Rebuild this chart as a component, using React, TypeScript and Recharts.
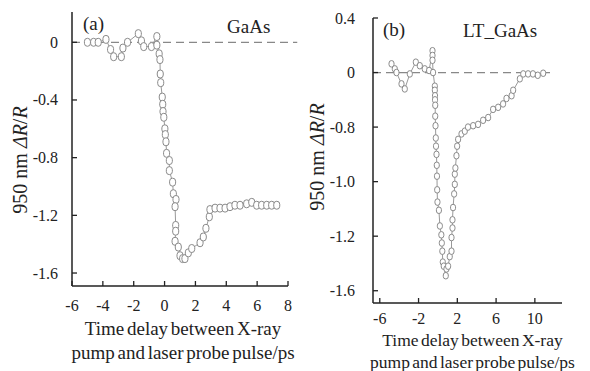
import React from 'react';
import { LineChart, Line, XAxis, YAxis, ReferenceLine, Label } from 'recharts';

// (a) GaAs: time delay (ps) and 950 nm dR/R
const timeA = [
  -5.0, -4.6, -4.3, -3.8, -3.5, -3.3, -2.8, -2.7, -2.4, -1.7, -1.5, -1.35, -0.85, -0.5, -0.5, -0.35,
  -0.3, -0.28, -0.25, -0.15, -0.12, -0.1, -0.05, 0.02, 0.05, 0.09, 0.13, 0.31, 0.31, 0.52, 0.57, 0.74,
  0.68, 0.72, 0.72, 0.68, 0.89, 1.0, 1.17, 1.32, 1.54, 1.76, 2.3, 2.51, 2.68, 2.9, 2.94, 3.27, 3.59,
  3.92, 4.24, 4.56, 4.89, 5.32, 5.65, 5.97, 6.29, 6.62, 6.94, 7.27,
];
const signalA = [
  0, 0, 0, 0.02, -0.05, -0.1, -0.1, -0.04, 0, 0.06, 0.01, -0.03, -0.03, 0.04, -0.02, -0.08,
  -0.12, -0.22, -0.28, -0.38, -0.43, -0.48, -0.52, -0.6, -0.64, -0.69, -0.77, -0.82, -0.89, -0.97, -1.05, -1.09,
  -1.14, -1.27, -1.31, -1.38, -1.42, -1.48, -1.5, -1.5, -1.46, -1.43, -1.39, -1.35, -1.29, -1.21, -1.16, -1.15, -1.15,
  -1.15, -1.14, -1.13, -1.13, -1.12, -1.11, -1.13, -1.13, -1.13, -1.13, -1.13,
];

// (b) LT_GaAs
const timeB = [
  -4.79, -4.45, -4.28, -3.76, -3.42, -2.9, -2.28, -1.87, -1.36, -0.91, -0.56, -0.56, -0.56, -0.5, -0.32, -0.32,
  -0.3, -0.3, -0.28, -0.28, -0.25, -0.22, -0.2, -0.15, -0.12, -0.1, -0.08, -0.05, 0.1, 0.2, 0.35, 0.4, 0.45,
  0.5, 0.6, 0.81, 0.88, 1.05, 1.22, 1.4, 1.4, 1.5, 1.5, 1.56, 1.67, 1.74, 1.74, 1.8, 1.91, 1.98, 2.08, 2.43,
  2.77, 3.1, 3.63, 4.14, 4.66, 5.18, 5.69, 6.21, 6.72, 7.07, 7.6, 7.76, 8.45, 8.8, 9.3, 9.8, 10.3, 10.86,
];
const signalB = [
  0.064, 0.027, 0, -0.083, -0.12, -0.01, 0.076, 0.05, 0.027, 0.015, 0.16, 0.125, 0.09, 0, -0.1, -0.13,
  -0.17, -0.2, -0.24, -0.32, -0.39, -0.48, -0.54, -0.6, -0.68, -0.76, -0.86, -0.95, -1.01, -1.125, -1.19, -1.25, -1.31,
  -1.39, -1.42, -1.49, -1.44, -1.42, -1.35, -1.31, -1.21, -1.14, -1.08, -0.99, -0.89, -0.82, -0.745, -0.7, -0.61, -0.54, -0.49, -0.45,
  -0.43, -0.4, -0.39, -0.38, -0.35, -0.33, -0.27, -0.255, -0.23, -0.19, -0.17, -0.13, -0.046, -0.01, -0.01, -0.01, -0.02, -0.005,
];

const xTicksA = [-6, -4, -2, 0, 2, 4, 6, 8];
const yTicksA = [0, -0.4, -0.8, -1.2, -1.6];
const yTickLabelsA = ['0', '-0.4', '-0.8', '-1.2', '-1.6'];
const xTicksB = [-6, -2, 2, 6, 10];
const yTicksB = [0.4, 0, -0.4, -0.8, -1.2, -1.6];
const yTickLabelsB = ['0.4', '0', '-0.8', '-1.0', '-1.2', '-1.6'];

const FONT = '"Liberation Serif", "Times New Roman", serif';
const INK = '#222';
const MARK = '#8a8a8a';
const serif: React.CSSProperties = { fontFamily: FONT };

const dataA = timeA.map((t, i) => ({ t, v: signalA[i] }));
const dataB = timeB.map((t, i) => ({ t, v: signalB[i] }));

// ticks point inward, so draw the tick mark with the label
const leftTick = (offset: number, ticks: number[], labels: string[]) => (props: any) => {
  const { x, y, payload } = props;
  const i = ticks.indexOf(payload.value);
  const ax = x + offset;
  return (
    <g>
      <line x1={ax} x2={ax + 5} y1={y} y2={y} stroke={INK} strokeWidth={1.3} />
      <text x={x} y={y} textAnchor="end" dominantBaseline="central" style={serif} fontSize={16} fill={INK}>
        {i >= 0 ? labels[i] : payload.value}
      </text>
    </g>
  );
};

const bottomTick = (offset: number) => (props: any) => {
  const { x, y, payload } = props;
  const ay = y - offset;
  return (
    <g>
      <line x1={x} x2={x} y1={ay} y2={ay - 5} stroke={INK} strokeWidth={1.3} />
      <text x={x} y={y} textAnchor="middle" dominantBaseline="central" style={serif} fontSize={16} fill={INK}>
        {payload.value}
      </text>
    </g>
  );
};

const xTitle = (dx: number, y1: number, y2: number, size: number) => (props: any) => {
  const vb = props.viewBox;
  const cx = vb.x + vb.width / 2 + dx;
  return (
    <text textAnchor="middle" fontSize={size} fill={INK} style={{ ...serif, wordSpacing: '-2px' }}>
      <tspan x={cx} y={vb.y + y1} dominantBaseline="central">Time delay between X-ray</tspan>
      <tspan x={cx} y={vb.y + y2} dominantBaseline="central">pump and laser probe pulse/ps</tspan>
    </text>
  );
};

const yTitle = (lx: number, dy: number, size: number) => (props: any) => {
  const vb = props.viewBox;
  const cx = vb.x + lx;
  const cy = vb.y + vb.height / 2 + dy;
  return (
    <text
      x={cx}
      y={cy}
      transform={`rotate(-90 ${cx} ${cy})`}
      textAnchor="middle"
      dominantBaseline="central"
      style={serif}
      fontSize={size}
      fill={INK}
    >
      950 nm <tspan fontStyle="italic">ΔR</tspan>/<tspan fontStyle="italic">R</tspan>
    </text>
  );
};

const marker = (w: number, h: number) => (p: any) => (
  <rect
    key={p.index}
    x={p.cx - w / 2}
    y={p.cy - h / 2}
    width={w}
    height={h}
    rx={w / 2}
    fill="#fff"
    stroke={MARK}
    strokeWidth={1}
  />
);

const noteStyle: React.CSSProperties = {
  position: 'absolute',
  fontFamily: FONT,
  fontSize: 19,
  lineHeight: 1,
  color: INK,
  whiteSpace: 'nowrap',
};

export default function App() {
  return (
    <div style={{ position: 'absolute', left: 0, top: 0, width: 590, height: 371, background: '#fff' }}>
      <div style={{ position: 'absolute', left: 0, top: 0 }}>
        <LineChart width={300} height={371} data={dataA} margin={{ top: 12, right: 12, bottom: 0, left: 0 }}>
          <XAxis
            dataKey="t"
            type="number"
            domain={[-6, 8]}
            ticks={xTicksA}
            allowDataOverflow
            height={85}
            axisLine={{ stroke: INK, strokeWidth: 1.5 }}
            tickLine={false}
            tickSize={0}
            tickMargin={19}
            tick={bottomTick(19)}
            interval={0}
          >
            <Label content={xTitle(3, 42, 66, 19)} />
          </XAxis>
          <YAxis
            type="number"
            domain={[-1.69, 0.21]}
            ticks={yTicksA}
            allowDataOverflow
            width={72}
            axisLine={{ stroke: INK, strokeWidth: 1.5 }}
            tickLine={false}
            tickSize={0}
            tickMargin={14}
            tick={leftTick(14, yTicksA, yTickLabelsA)}
            interval={0}
          >
            <Label content={yTitle(20, 11, 20)} />
          </YAxis>
          <ReferenceLine
            segment={[{ x: -6, y: 0 }, { x: 8.6, y: 0 }]}
            stroke="#888"
            strokeDasharray="8 5"
            strokeWidth={1.2}
            ifOverflow="visible"
          />
          <Line
            dataKey="v"
            type="linear"
            stroke="#999"
            strokeWidth={1}
            dot={marker(6, 8)}
            activeDot={false}
            isAnimationActive={false}
          />
        </LineChart>
      </div>
      <div style={{ position: 'absolute', left: 300, top: 0 }}>
        <LineChart width={290} height={371} data={dataB} margin={{ top: 18, right: 28, bottom: 0, left: 0 }}>
          <XAxis
            dataKey="t"
            type="number"
            domain={[-6.7, 12.8]}
            ticks={xTicksB}
            allowDataOverflow
            height={68}
            axisLine={{ stroke: INK, strokeWidth: 1.5 }}
            tickLine={false}
            tickSize={0}
            tickMargin={15}
            tick={bottomTick(15)}
            interval={0}
          >
            <Label content={xTitle(5, 37, 59, 17.5)} />
          </XAxis>
          <YAxis
            type="number"
            domain={[-1.69, 0.4]}
            ticks={yTicksB}
            allowDataOverflow
            width={73}
            axisLine={{ stroke: INK, strokeWidth: 1.5 }}
            tickLine={false}
            tickSize={0}
            tickMargin={18}
            tick={leftTick(18, yTicksB, yTickLabelsB)}
            interval={0}
          >
            <Label content={yTitle(17, -3.5, 20)} />
          </YAxis>
          <ReferenceLine
            segment={[{ x: -6.7, y: 0 }, { x: 11.7, y: 0 }]}
            stroke="#888"
            strokeDasharray="8 5"
            strokeWidth={1.2}
            ifOverflow="visible"
          />
          <Line
            dataKey="v"
            type="linear"
            stroke="#999"
            strokeWidth={1}
            dot={marker(5, 6.5)}
            activeDot={false}
            isAnimationActive={false}
          />
        </LineChart>
      </div>
      <div style={{ ...noteStyle, left: 83, top: 14 }}>(a)</div>
      <div style={{ ...noteStyle, left: 227, top: 17 }}>GaAs</div>
      <div style={{ ...noteStyle, left: 383, top: 20 }}>(b)</div>
      <div style={{ ...noteStyle, left: 463, top: 21 }}>LT_GaAs</div>
    </div>
  );
}
